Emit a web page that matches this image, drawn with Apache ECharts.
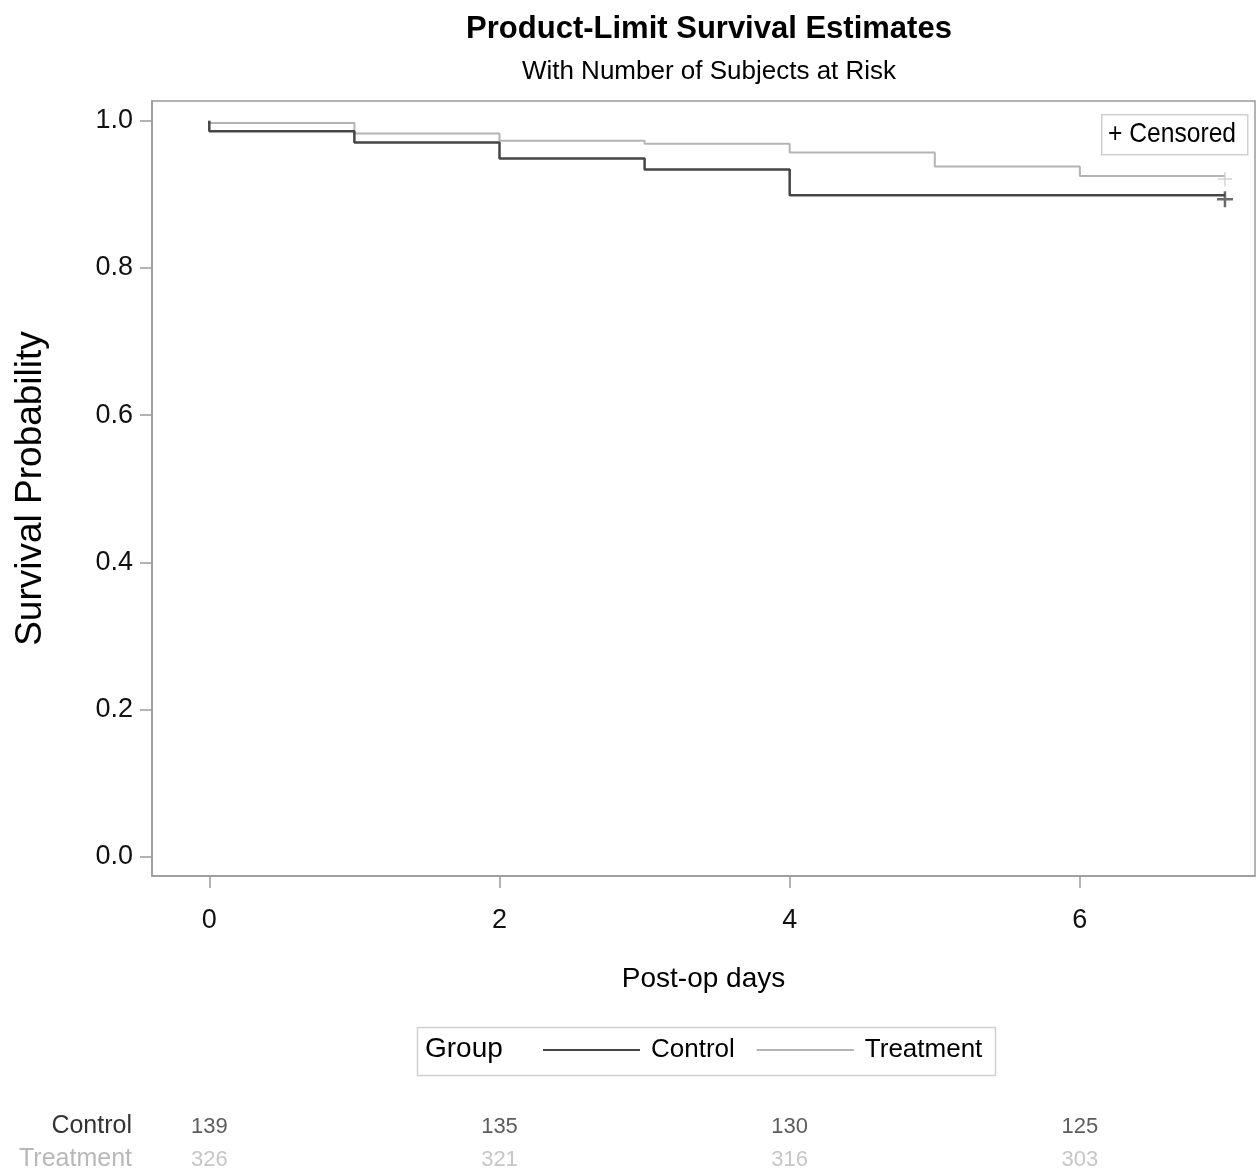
<!DOCTYPE html>
<html>
<head>
<meta charset="utf-8">
<script src="https://cdn.jsdelivr.net/npm/echarts@6/dist/echarts.min.js"></script>
<style>html,body{margin:0;padding:0;background:#fff}#c{width:1256px;height:1176px}</style>
</head>
<body>
<div id="c"></div>
<script>
// ---- data ----
const controlTimes = [0, 0, 1, 2, 3, 4, 7];
const controlSurv  = [1, 0.986, 0.9705, 0.949, 0.934, 0.899, 0.899];
const treatTimes   = [0, 0, 1, 2, 3, 4, 5, 6, 7];
const treatSurv    = [1, 0.997, 0.983, 0.973, 0.969, 0.957, 0.938, 0.925, 0.925];
const controlCensor = [[7, 0.899]];
const treatCensor   = [[7, 0.925]];
const riskTimes   = [0, 2, 4, 6];
const riskControl = [139, 135, 130, 125];
const riskTreat   = [326, 321, 316, 303];
const xTicks = [0, 2, 4, 6];
const yTicks = [0, 0.2, 0.4, 0.6, 0.8, 1.0];
const groups = ['Control', 'Treatment'];

const F = "'Liberation Sans', Arial, sans-serif";
const cDark = '#454545', cLight = '#b4b4b4';
const xMin = -0.395, xMax = 7.207;

const zip = (a, b) => a.map((v, i) => [v, b[i]]);
const plus = 'path://M0,-10L0,10M-10,0L10,0';

const chart = echarts.init(document.getElementById('c'), null, {renderer: 'canvas'});
chart.setOption({
  animation: false,
  backgroundColor: '#fff',
  title: {
    text: 'Product-Limit Survival Estimates',
    subtext: 'With Number of Subjects at Risk',
    left: 704, textAlign: 'center', top: 9, itemGap: 14,
    textStyle: {fontFamily: F, fontSize: 31, fontWeight: 'bold', color: '#000'},
    subtextStyle: {fontFamily: F, fontSize: 26, color: '#000'}
  },
  legend: {
    data: groups,
    left: 543, top: 1037, padding: 0,
    icon: 'rect', itemWidth: 97, itemHeight: 2, itemGap: 22,
    textStyle: {fontFamily: F, fontSize: 26, color: '#000', padding: [0, 0, 0, 6]}
  },
  graphic: [
    {type: 'rect', left: 415, top: 1025, shape: {width: 578, height: 48},
     style: {fill: 'none', stroke: '#d0d0d0', lineWidth: 1.5}, silent: true},
    {type: 'text', left: 425, top: 1035, style: {text: 'Group', font: "28px " + F, fill: '#000'}},
    {type: 'rect', left: 1101, top: 114, shape: {width: 146, height: 40},
     style: {fill: '#fff', stroke: '#d0d0d0', lineWidth: 1.5}, z: 10},
    {type: 'text', x: 1108, y: 120, scaleX: 0.88, z: 11, style: {text: '+ Censored', font: "28px " + F, fill: '#000'}}
  ],
  grid: [
    {left: 152, right: 1, top: 101, bottom: 300, show: true, borderColor: '#9a9a9a', borderWidth: 1.5},
    {left: 152, right: 1, top: 1110, height: 70}
  ],
  xAxis: [
    {type: 'value', gridIndex: 0, min: xMin, max: xMax,
     name: 'Post-op days', nameLocation: 'middle', nameGap: 89,
     nameTextStyle: {fontFamily: F, fontSize: 28, color: '#000'},
     axisLine: {show: true, onZero: false, lineStyle: {color: '#9a9a9a', width: 1.5}},
     axisTick: {show: true, length: 12, customValues: xTicks, lineStyle: {color: '#9a9a9a', width: 1.5}},
     axisLabel: {customValues: xTicks, margin: 31, fontFamily: F, fontSize: 27, color: '#111'},
     splitLine: {show: false}},
    {type: 'value', gridIndex: 1, min: xMin, max: xMax, show: false}
  ],
  yAxis: [
    {type: 'value', gridIndex: 0, min: -0.0262, max: 1.027,
     name: 'Survival Probability', nameLocation: 'middle', nameGap: 103, nameRotate: 90,
     nameTextStyle: {fontFamily: F, fontSize: 37, color: '#000'},
     axisLine: {show: true, onZero: false, lineStyle: {color: '#9a9a9a', width: 1.5}},
     axisTick: {show: true, length: 12, customValues: yTicks, lineStyle: {color: '#9a9a9a', width: 1.5}},
     axisLabel: {customValues: yTicks, margin: 19, fontFamily: F, fontSize: 27, color: '#111',
                 formatter: v => v.toFixed(1)},
     splitLine: {show: false}},
    {type: 'category', gridIndex: 1, data: ['Treatment', 'Control'],
     axisLine: {show: false}, axisTick: {show: false}, splitLine: {show: false},
     axisLabel: {interval: 0, margin: 20, fontFamily: F, fontSize: 25,
       formatter: v => v === 'Control' ? '{c|' + v + '}' : '{t|' + v + '}',
       rich: {c: {color: '#333', fontFamily: F, fontSize: 25}, t: {color: '#b8b8b8', fontFamily: F, fontSize: 25}}}}
  ],
  series: [
    {name: 'Control', type: 'line', step: 'end', xAxisIndex: 0, yAxisIndex: 0,
     data: zip(controlTimes, controlSurv), symbol: 'none', color: cDark,
     lineStyle: {color: cDark, width: 2.5}, z: 3},
    {name: 'Treatment', type: 'line', step: 'end', xAxisIndex: 0, yAxisIndex: 0,
     data: zip(treatTimes, treatSurv), symbol: 'none', color: cLight,
     lineStyle: {color: cLight, width: 2}, z: 2},
    {name: 'Control censored', type: 'scatter', xAxisIndex: 0, yAxisIndex: 0,
     data: controlCensor, symbol: plus, symbolSize: 16, symbolOffset: [0, 4],
     itemStyle: {color: 'none', borderColor: cDark, borderWidth: 2.5}, z: 4},
    {name: 'Treatment censored', type: 'scatter', xAxisIndex: 0, yAxisIndex: 0,
     data: treatCensor, symbol: plus, symbolSize: 14, symbolOffset: [0, 3],
     itemStyle: {color: 'none', borderColor: '#c8c8c8', borderWidth: 1.5}, z: 4},
    {name: 'Risk Control', type: 'scatter', xAxisIndex: 1, yAxisIndex: 1,
     data: riskTimes.map((t, i) => [t, 'Control', riskControl[i]]), symbolSize: 0,
     label: {show: true, position: 'inside', formatter: p => p.value[2],
             fontFamily: F, fontSize: 22, color: '#333'}},
    {name: 'Risk Treatment', type: 'scatter', xAxisIndex: 1, yAxisIndex: 1,
     data: riskTimes.map((t, i) => [t, 'Treatment', riskTreat[i]]), symbolSize: 0,
     label: {show: true, position: 'inside', formatter: p => p.value[2],
             fontFamily: F, fontSize: 22, color: '#b8b8b8'}}
  ]
});
</script>
</body>
</html>
